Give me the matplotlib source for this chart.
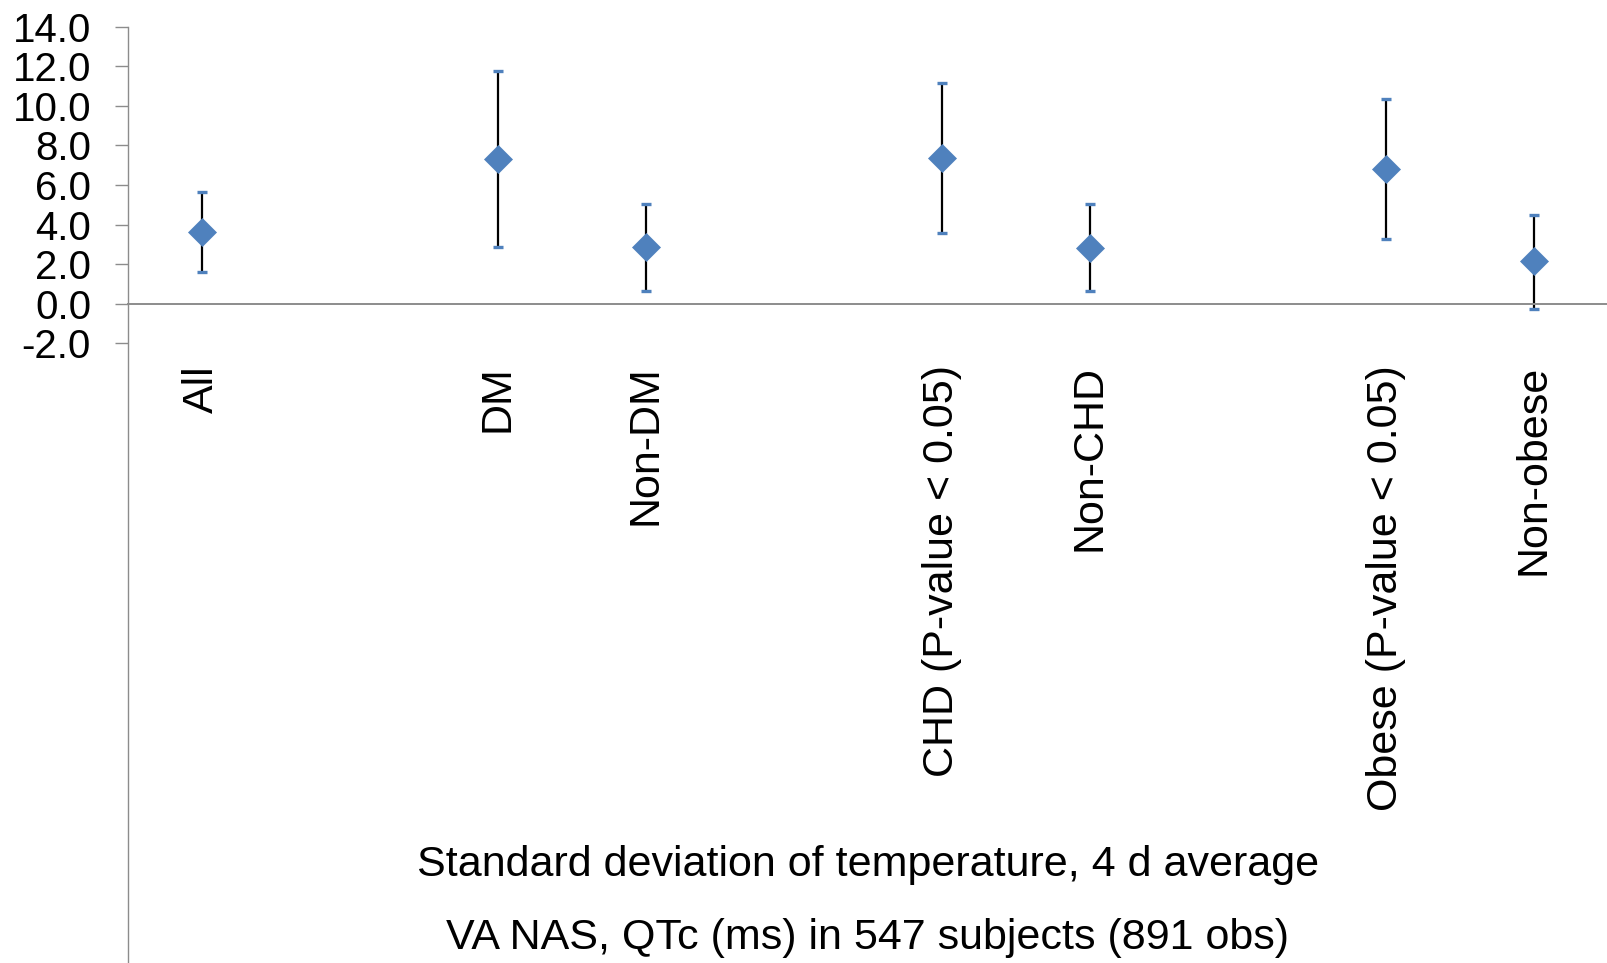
import matplotlib
matplotlib.use("Agg")
import matplotlib.pyplot as plt

plt.rcParams['font.family'] = ['Liberation Sans', 'DejaVu Sans']

# Data
categories = ["All", "", "DM", "Non-DM", "", "CHD (P-value < 0.05)", "Non-CHD", "", "Obese (P-value < 0.05)", "Non-obese"]
cat_index = [0, 2, 3, 5, 6, 8, 9]
estimates = [3.62, 7.32, 2.86, 7.39, 2.84, 6.82, 2.14]
upper = [5.65, 11.78, 5.05, 11.18, 5.05, 10.37, 4.49]
lower = [1.60, 2.89, 0.67, 3.59, 0.67, 3.27, -0.24]
ytick_vals = [-2, 0, 2, 4, 6, 8, 10, 12, 14]
ytick_labels = ["-2.0", "0.0", "2.0", "4.0", "6.0", "8.0", "10.0", "12.0", "14.0"]
xlabel1 = "Standard deviation of temperature, 4 d average"
xlabel2 = "VA NAS, QTc (ms) in 547 subjects (891 obs)"

W, H = 1608, 963
fig = plt.figure(figsize=(W / 100, H / 100), dpi=100)
ax = fig.add_axes([127.7 / W, 0, 1 - 127.7 / W, 1 - 26.7 / H])

blue = "#4F81BD"
grey = "#8C8C8C"

xs = [i + 0.5 for i in cat_index]
yerr_lo = [e - l for e, l in zip(estimates, lower)]
yerr_hi = [u - e for e, u in zip(estimates, upper)]
ax.errorbar(xs, estimates, yerr=[yerr_lo, yerr_hi], fmt='none', ecolor='black',
            elinewidth=1.6, capsize=0, zorder=2)
ax.plot(xs, upper, linestyle='none', marker='_', ms=7.5, mew=2.4, color=blue, zorder=3)
ax.plot(xs, lower, linestyle='none', marker='_', ms=7.5, mew=2.4, color=blue, zorder=3)
ax.plot(xs, estimates, linestyle='none', marker='D', ms=14.5, mew=0.5,
        mfc=blue, mec=blue, zorder=4)

ax.set_xlim(0, len(categories))
ax.set_ylim(-33.3, 14)

for sp in ['top', 'right']:
    ax.spines[sp].set_visible(False)
ax.spines['bottom'].set_position(('data', 0))
ax.spines['bottom'].set_color(grey)
ax.spines['bottom'].set_linewidth(1.4)
ax.spines['left'].set_color(grey)
ax.spines['left'].set_linewidth(1.0)

ax.set_xticks([])
ax.set_yticks(ytick_vals)
ax.set_yticklabels(ytick_labels)
ax.tick_params(axis='y', length=9.4, width=1.0, color=grey, labelsize=29, pad=17)

for i, lab in enumerate(categories):
    if lab:
        ax.text(i + 0.5, -3.1, lab, rotation=90, ha='center', va='top', fontsize=31)

cx = (127.7 + W) / 2 / W
fig.text(cx, 1 - 865 / H, xlabel1, ha='center', va='center', fontsize=31)
fig.text(cx, 1 - 938 / H, xlabel2, ha='center', va='center', fontsize=31)

fig.savefig("out.png", dpi=100)
